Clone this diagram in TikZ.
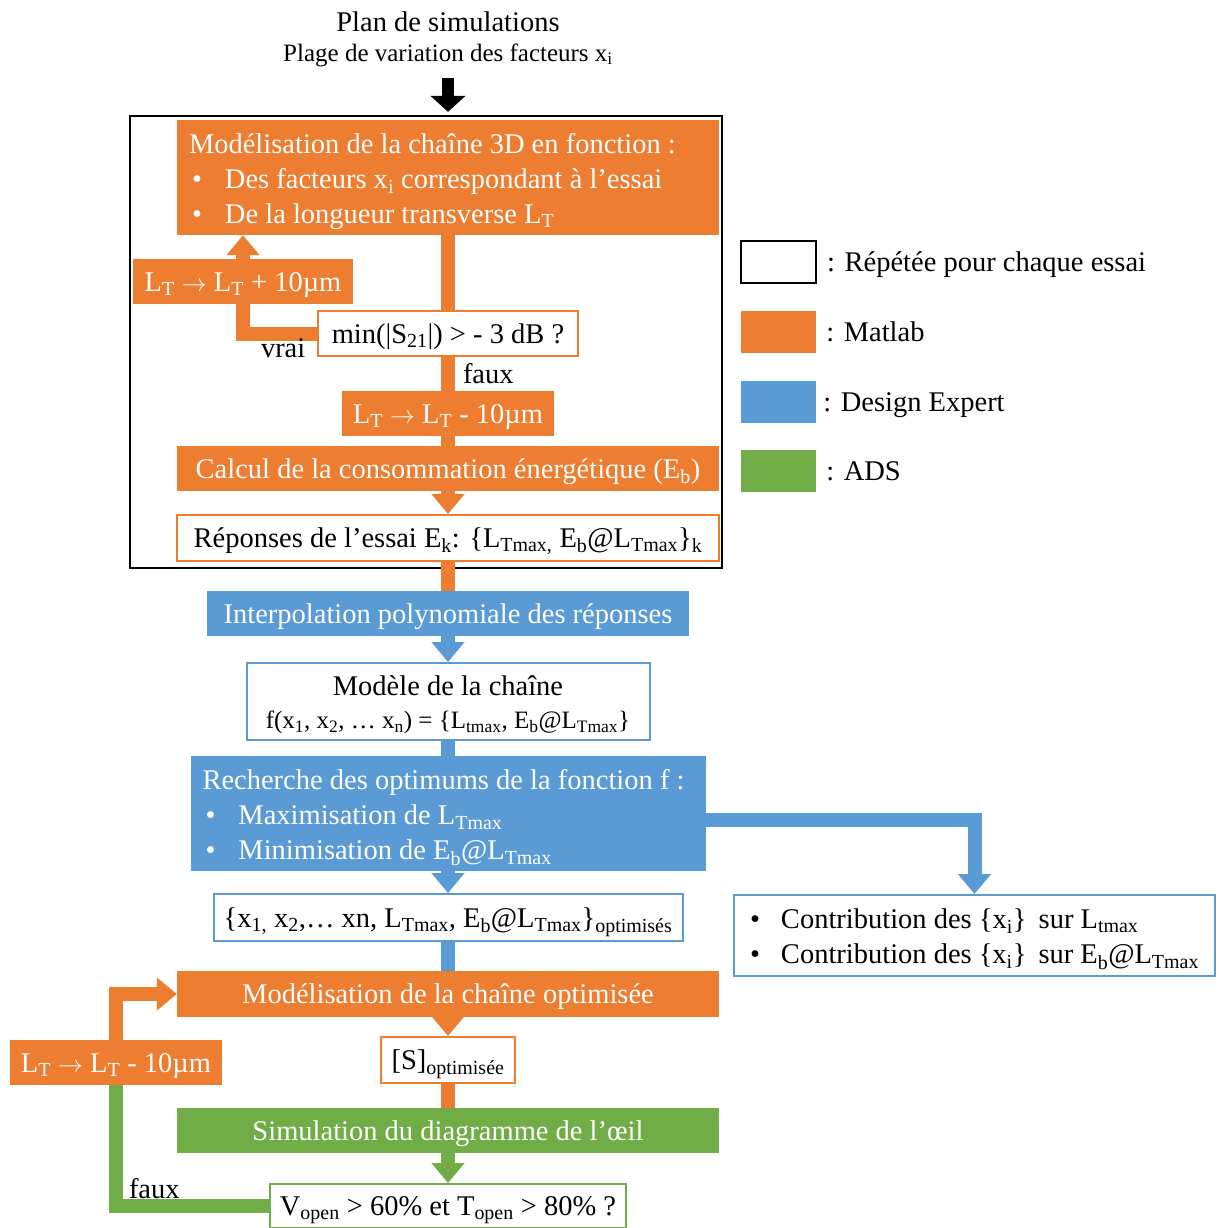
\documentclass[tikz,border=0pt]{standalone}
\usepackage{fontspec}
\setmainfont{Liberation Serif}
\usepackage{xcolor}
\usepackage{tikz}
\usetikzlibrary{arrows.meta,positioning}
\definecolor{matlab}{HTML}{ED7D31}
\definecolor{dexpert}{HTML}{5B9BD5}
\definecolor{ads}{HTML}{70AD47}
\newcommand{\idx}[1]{\textsubscript{#1}}
\newcommand{\bul}{\makebox[36pt][l]{\hspace{3pt}\textbullet}}
\newcommand{\ra}{\ensuremath{\rightarrow}}

\begin{document}
\begin{tikzpicture}[x=1pt, y=-1pt, every node/.style={font=\fontsize{28.5}{35}\selectfont, inner sep=0pt}, one/.style={text height=24pt,text depth=5pt}, box/.style={minimum height=45pt,align=center}, obox/.style={box,fill=matlab,text=white}, bbox/.style={box,fill=dexpert,text=white}, gbox/.style={box,fill=ads,text=white}, owbox/.style={box,draw=matlab,line width=2pt,fill=white}, bwbox/.style={box,draw=dexpert,line width=2pt,fill=white}, gwbox/.style={box,draw=ads,line width=2pt,fill=white}, oline/.style={matlab,line width=14pt}, bline/.style={dexpert,line width=14pt}, gline/.style={ads,line width=14pt}, tip/.style={-{Triangle[length=20pt,width=32pt]}}, swatch/.style={minimum width=75pt,minimum height=42pt}, lbl/.style={text=black}]
\useasboundingbox (0,0) rectangle (1218,1228);
\node (plan) at (448,22) {Plan de simulations};
\node[font=\fontsize{25}{30}\selectfont] (plage) at (448,55) {Plage de variation des facteurs x\idx{i}};
\node[draw,line width=2.2pt,minimum width=592pt,minimum height=452pt] (frame) at (426,342) {};
\node[obox,minimum width=542pt,minimum height=115pt,text width=518pt,inner xsep=12pt,align=flush left] (mod3d) at (448,177.5) {\rule{0pt}{28pt}Modélisation de la chaîne 3D en fonction :\\\bul Des facteurs x\idx{i} correspondant à l’essai\\\bul De la longueur transverse L\idx{T}};
\node[obox,one,minimum width=220pt] (ltp) at (243,281.5) {L\idx{T} \ra{} L\idx{T} + 10µm};
\node[owbox,one,minimum width=260pt] (minbox) at (448,333.5) {min(|S\idx{21}|) > - 3 dB ?};
\node[obox,one,minimum width=212pt] (ltm) at (448,413.5) {L\idx{T} \ra{} L\idx{T} - 10µm};
\node[obox,one,minimum width=542pt] (calc) at (448,468.5) {Calcul de la consommation énergétique (E\idx{b})};
\node[owbox,one,minimum width=542pt,minimum height=46pt] (rep) at (448,538) {Réponses de l’essai E\idx{k}: \{L\idx{Tmax,} E\idx{b}@L\idx{Tmax}\}\idx{k}};
\node[bbox,one,minimum width=482pt] (interp) at (448,613.5) {Interpolation polynomiale des réponses};
\node[bwbox,minimum width=403pt,minimum height=77pt,font=\fontsize{28.5}{33}\selectfont] (model) at (448,701.5) {\rule{0pt}{26pt}Modèle de la chaîne\\{\fontsize{25}{30}\selectfont f(x\idx{1}, x\idx{2}, … x\idx{n}) = \{L\idx{tmax}, E\idx{b}@L\idx{Tmax}\}}};
\node[bbox,minimum width=515pt,minimum height=115pt,text width=491pt,inner xsep=12pt,align=flush left] (rech) at (448,813.5) {\rule{0pt}{28pt}Recherche des optimums de la fonction f :\\\bul Maximisation de L\idx{Tmax}\\\bul Minimisation de E\idx{b}@L\idx{Tmax}};
\node[bwbox,one,minimum width=469pt,minimum height=47pt] (xopt) at (448,917.5) {\{x\idx{1,} x\idx{2},… xn, L\idx{Tmax}, E\idx{b}@L\idx{Tmax}\}\idx{optimisés}};
\node[bwbox,minimum width=481pt,minimum height=81pt,text width=449pt,inner xsep=16pt,align=flush left] (contrib) at (974.5,935.5) {\rule{0pt}{27pt}\makebox[31pt][l]{\textbullet}Contribution des \{x\idx{i}\}\hspace{5pt} sur L\idx{tmax}\\\makebox[31pt][l]{\textbullet}Contribution des \{x\idx{i}\}\hspace{5pt} sur E\idx{b}@L\idx{Tmax}};
\node[obox,one,minimum width=542pt,minimum height=46pt] (mopt) at (448,994) {Modélisation de la chaîne optimisée};
\node[obox,one,minimum width=212pt] (ltm2) at (116,1062.5) {L\idx{T} \ra{} L\idx{T} - 10µm};
\node[owbox,one,minimum width=134pt,minimum height=46pt] (sopt) at (448,1060) {[S]\idx{optimisée}};
\node[gbox,one,minimum width=542pt] (sim) at (448,1130.5) {Simulation du diagramme de l’œil};
\node[gwbox,one,minimum width=356pt,minimum height=44pt] (vbox) at (448,1206) {V\idx{open} > 60\% et T\idx{open} > 80\% ?};
\node[swatch,draw,line width=2pt] (lgrep) at (778.5,261.5) {};
\node[one,right=10pt of lgrep] (lgreptxt) {: Répétée pour chaque essai};
\node[swatch,fill=matlab] (lgmat) at (778.5,331.5) {};
\node[one,right=10pt of lgmat] (lgmattxt) {: Matlab};
\node[swatch,fill=dexpert] (lgdex) at (778.5,401.5) {};
\node[one,right=7pt of lgdex] (lgdextxt) {: Design Expert};
\node[swatch,fill=ads] (lgads) at (778.5,471) {};
\node[one,right=10pt of lgads] (lgadstxt) {: ADS};
\draw[line width=12pt,-{Triangle[length=16pt,width=34pt]},shorten <=11pt,shorten >=3pt] (plage.south) -- (plage.south |- frame.north);
\draw[oline] (mod3d.south) -- (minbox.north);
\draw[oline] (minbox.west) -| node[lbl,pos=0.5,anchor=north west,xshift=11pt,yshift=2pt]{vrai} (ltp.south);
\draw[oline,tip] (ltp.north) -- (ltp.north |- mod3d.south);
\draw[oline] (minbox.south) -- node[lbl,right=8pt]{faux} (ltm.north);
\draw[oline] (ltm.south) -- (calc.north);
\draw[oline,tip] (calc.south) -- (rep.north);
\draw[oline] (rep.south) -- (interp.north);
\draw[bline,tip] (interp.south) -- (model.north);
\draw[bline] (model.south) -- (rech.north);
\draw[bline,tip] ([yshift=-6pt]rech.east) -| (contrib.north);
\draw[bline,tip] (rech.south) -- (xopt.north);
\draw[bline] (xopt.south) -- (mopt.north);
\draw[oline,tip] (mopt.south) -- (sopt.north);
\draw[oline] (sopt.south) -- (sim.north);
\draw[gline,tip] (sim.south) -- (vbox.north);
\draw[gline] (vbox.west) -| node[lbl,pos=0.5,anchor=south west,xshift=6pt,yshift=0pt]{faux} (ltm2.south);
\draw[oline,tip] (ltm2.north) |- (mopt.west);
\end{tikzpicture}
\end{document}
